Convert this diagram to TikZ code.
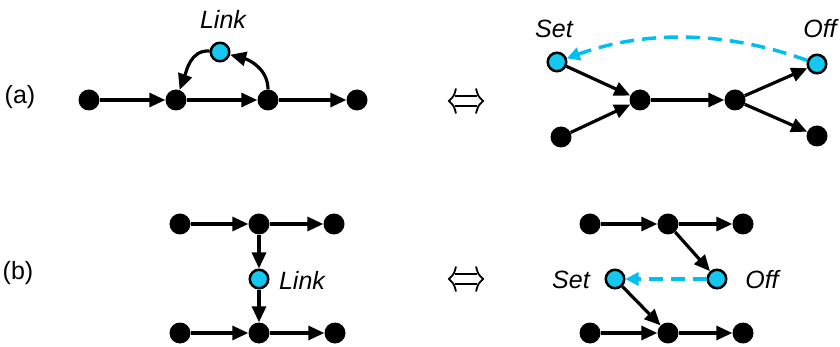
\documentclass[tikz,border=0pt]{standalone}
\usepackage{fontspec}
\setmainfont{Liberation Sans}
\usetikzlibrary{arrows.meta}
\definecolor{cyanfill}{RGB}{20,200,240}
\definecolor{cyanline}{RGB}{0,190,240}
\begin{document}
\begin{tikzpicture}[x=1pt,y=-1pt,
  bn/.style={circle,fill=black,minimum size=21pt,inner sep=0pt},
  cn/.style={circle,fill=cyanfill,draw=black,line width=2.5pt,minimum size=18.5pt,inner sep=0pt},
  edge/.style={line width=3.2pt,-{Triangle[length=16pt,width=14pt]}},
  dedge/.style={cyanline,line width=3.5pt,dash pattern=on 14pt off 8pt,-{Triangle[length=13pt,width=13pt]}},
  lbl/.style={font=\fontsize{25}{30}\selectfont\itshape,inner sep=0pt},
  tag/.style={font=\fontsize{25}{30}\selectfont,inner sep=0pt},
  eqvpic/.pic={
    \draw[line width=1.8pt] (-11,-5) -- (11,-5) (-11,5) -- (11,5);
    \draw[line width=1.8pt] (-10,-12.5) .. controls (-12,-5) .. (-17,0) .. controls (-12,5) .. (-10,12.5);
    \draw[line width=1.8pt] (10,-12.5) .. controls (12,-5) .. (17,0) .. controls (12,5) .. (10,12.5);
  }
]
\useasboundingbox (0,0) rectangle (840,347);
% ---- (a) left
\node[bn] (a1) at (89,100) {};
\node[bn] (a2) at (176,100) {};
\node[bn] (a3) at (268,100) {};
\node[bn] (a4) at (357,100) {};
\node[cn] (lkA) at (220,52) {};
\draw[edge] (a1) -- (a2);
\draw[edge] (a2) -- (a3);
\draw[edge] (a3) -- (a4);
\draw[edge] (a3) to[out=90,in=-15] (lkA);
\draw[edge] (lkA) to[out=175,in=70] (a2);
% ---- (a) right
\node[cn] (setA) at (557,62) {};
\node[bn] (mA) at (640,100) {};
\node[bn] (sA) at (735,100) {};
\node[cn] (offA) at (817,64) {};
\node[bn] (blA) at (561,137) {};
\node[bn] (brA) at (817,136) {};
\draw[edge] (setA) -- (mA);
\draw[edge] (blA) -- (mA);
\draw[edge] (mA) -- (sA);
\draw[edge] (sA) -- (offA);
\draw[edge] (sA) -- (brA);
\draw[dedge] (offA) to[out=160,in=20,looseness=0.9] (setA);
% ---- (b) left
\node[bn] (t1) at (180,224) {};
\node[bn] (t2) at (259,224) {};
\node[bn] (t3) at (334,224) {};
\node[cn] (lkB) at (259,279) {};
\node[bn] (b1) at (180,333) {};
\node[bn] (b2) at (259,333) {};
\node[bn] (b3) at (335,333) {};
\draw[edge] (t1) -- (t2);
\draw[edge] (t2) -- (t3);
\draw[edge] (t2) -- (lkB);
\draw[edge] (lkB) -- (b2);
\draw[edge] (b1) -- (b2);
\draw[edge] (b2) -- (b3);
% ---- (b) right
\node[bn] (u1) at (590,224) {};
\node[bn] (u2) at (668,224) {};
\node[bn] (u3) at (743,224) {};
\node[cn] (setB) at (615,279) {};
\node[cn] (offB) at (717,279) {};
\node[bn] (v1) at (590,333) {};
\node[bn] (v2) at (668,333) {};
\node[bn] (v3) at (743,333) {};
\draw[edge] (u1) -- (u2);
\draw[edge] (u2) -- (u3);
\draw[edge] (u2) -- (offB);
\draw[edge] (setB) -- (v2);
\draw[edge] (v1) -- (v2);
\draw[edge] (v2) -- (v3);
\draw[dedge] (offB) -- (setB);
% ---- equivalence symbols
\pic at (466,101) {eqvpic};
\pic at (466,279) {eqvpic};
% ---- labels
\node[lbl] (linkLA) at (223,19) {Link};
\node[lbl] (setLA) at (554,29) {Set};
\node[lbl] (offLA) at (820,29) {Off};
\node[tag] (ta) at (20,97) {(a)};
\node[tag] (tb) at (18,273) {(b)};
\node[lbl] (linkLB) at (302,280) {Link};
\node[lbl] (setLB) at (571,280) {Set};
\node[lbl] (offLB) at (762,280) {Off};
\end{tikzpicture}
\end{document}
